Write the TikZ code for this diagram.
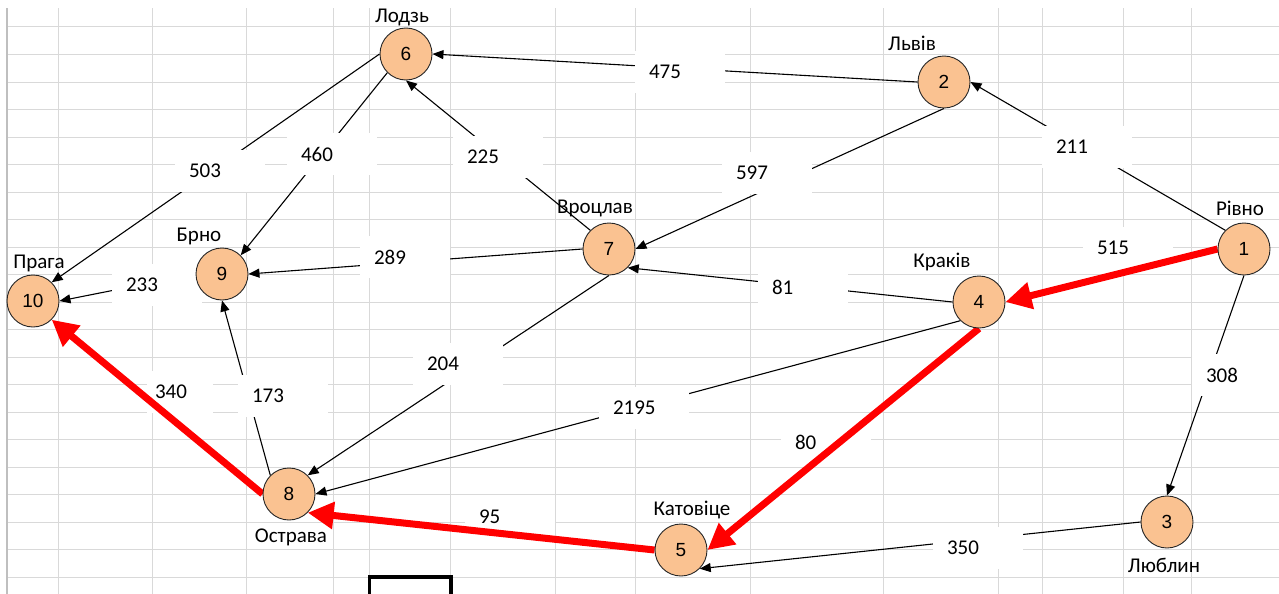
\documentclass[tikz,border=0pt]{standalone}
\usepackage{fontspec}
\setmainfont{Carlito}
\newfontfamily\numfont{Liberation Sans}
\usetikzlibrary{arrows.meta}
\definecolor{gridc}{HTML}{D9D9D9}
\definecolor{borderc}{HTML}{BFBFBF}
\definecolor{nodefill}{HTML}{FAC291}
\definecolor{pathred}{HTML}{FF0000}
\newcommand{\lblfont}{\fontsize{21}{24}\selectfont}
\newcommand{\vtxfont}{\numfont\fontsize{19}{22}\selectfont}
\tikzset{
  vertex/.style={circle, draw=black!85, line width=0.9pt, fill=nodefill, minimum size=52pt, inner sep=0pt, font=\vtxfont},
  city/.style={font=\lblfont, inner sep=0pt},
  lbl/.style={fill=white, text width=62pt, align=left, inner xsep=14pt, inner ysep=0pt, minimum height=42pt, font=\lblfont},
  edge/.style={draw=black, line width=1.1pt, -{Triangle[length=11pt,width=9pt]}},
  redge/.style={draw=pathred, line width=7pt, -{Triangle[length=26pt,width=26pt]}},
  gridline/.style={draw=gridc, line width=1pt},
}
\begin{document}
\begin{tikzpicture}[x=1pt,y=-1pt]
\useasboundingbox (0,0) rectangle (1279,594);
\fill[white] (0,0) rectangle (1279,594);
% grid
\foreach \gx in {58,152,246,333,369,450,555,635,750,883,998,1042,1123,1191}
  \draw[gridline] (\gx,8) -- (\gx,594);
\foreach \k in {0,...,20}
  \draw[gridline] (7,27+27.5*\k) -- (1279,27+27.5*\k);
\draw[draw=borderc, line width=1.2pt] (7,8) -- (7,594);

% vertices (positions)
\path
  (1244,249) coordinate (p1)
  (944,82)   coordinate (p2)
  (1167,522) coordinate (p3)
  (979,302)  coordinate (p4)
  (681,550)  coordinate (p5)
  (406,54)   coordinate (p6)
  (609,249)  coordinate (p7)
  (289,494)  coordinate (p8)
  (222,274)  coordinate (p9)
  (33,301)   coordinate (p10);

% invisible placement of vertices first so anchors exist
\node[vertex, draw=none, fill=none, text opacity=0] (n1) at (p1) {1};
\node[vertex, draw=none, fill=none, text opacity=0] (n2) at (p2) {2};
\node[vertex, draw=none, fill=none, text opacity=0] (n3) at (p3) {3};
\node[vertex, draw=none, fill=none, text opacity=0] (n4) at (p4) {4};
\node[vertex, draw=none, fill=none, text opacity=0] (n5) at (p5) {5};
\node[vertex, draw=none, fill=none, text opacity=0] (n6) at (p6) {6};
\node[vertex, draw=none, fill=none, text opacity=0] (n7) at (p7) {7};
\node[vertex, draw=none, fill=none, text opacity=0] (n8) at (p8) {8};
\node[vertex, draw=none, fill=none, text opacity=0] (n9) at (p9) {9};
\node[vertex, draw=none, fill=none, text opacity=0] (n10) at (p10) {10};

% black edges
\draw[edge] (n2.west) -- (n6.east);
\draw[edge] (n1.north west) -- (n2.east);
\draw[edge] (n2.south) -- (n7.east);
\draw[edge] (n7.north west) -- (n6.south);
\draw[edge] (n6.west) -- (n10.north east);
\draw[edge] (n6.south west) -- (n9.north east);
\draw[edge] (n7.west) -- (n9.east);
\draw[edge] (n9.west) -- (n10.east);
\draw[edge] (n4.west) -- (n7.south east);
\draw[edge] (n7.south) -- (n8.north east);
\draw[edge] (n4.south west) -- (n8.east);
\draw[edge] (n8.north west) -- (n9.south);
\draw[edge] (n1.south) -- (n3.north);
\draw[edge] (n3.west) -- (n5.south east);

% weight labels
\node[lbl] (w475) at (680,72) {475};
\node[lbl] (w211) at (1087,147) {211};
\node[lbl] (w597) at (767,173) {597};
\node[lbl] (w225) at (498,157) {225};
\node[lbl] (w503) at (220,171) {503};
\node[lbl] (w460) at (332,154) {460};
\node[lbl] (w289) at (405,257) {289};
\node[lbl] (w233) at (157,285) {233};
\node[lbl] (w81)  at (803,287) {81};
\node[lbl] (w204) at (458,364) {204};
\node[lbl] (w2195) at (644,408) {2195};
\node[lbl] (w173) at (283,396) {173};
\node[lbl, text width=50pt, inner xsep=8pt] (w340) at (180,392) {340};
\node[lbl] (w515) at (1128,248) {515};
\node[lbl] (w80)  at (826,442) {80};
\node[lbl] (w95)  at (510,517) {95};
\node[lbl] (w308) at (1237,375) {308};
\node[lbl] (w350) at (978,548) {350};

% red path
\draw[redge] (n1.west) -- (n4.east);
\draw[redge] (n4.south) -- (n5.east);
\draw[redge] (n5.west) -- (n8.south east);
\draw[redge] (n8.west) -- (n10.south east);

% visible vertices
\node[vertex] at (p1) {1};
\node[vertex] at (p2) {2};
\node[vertex] at (p3) {3};
\node[vertex] at (p4) {4};
\node[vertex] at (p5) {5};
\node[vertex] at (p6) {6};
\node[vertex] at (p7) {7};
\node[vertex] at (p8) {8};
\node[vertex] at (p9) {9};
\node[vertex] at (p10) {10};

% city names
\node[city] (c6) at (402,17) {Лодзь};
\node[city] (c2) at (912,43) {Львів};
\node[city] (c1) at (1240,208) {Рівно};
\node[city] (c4) at (942,262) {Краків};
\node[city] (c7) at (595,208) {Вроцлав};
\node[city] (c9) at (199,236) {Брно};
\node[city] (c10) at (39,263) {Прага};
\node[city] (c8) at (291,537) {Острава};
\node[city] (c5) at (692,510) {Катовіце};
\node[city] (c3) at (1164,565) {Люблин};

% top strip (clips the top label)
\fill[white] (0,0) rectangle (1279,8);

% black box at the bottom
\draw[black, line width=3.5pt] (369.5,600) -- (369.5,577) -- (451,577) -- (451,600);
\end{tikzpicture}
\end{document}
